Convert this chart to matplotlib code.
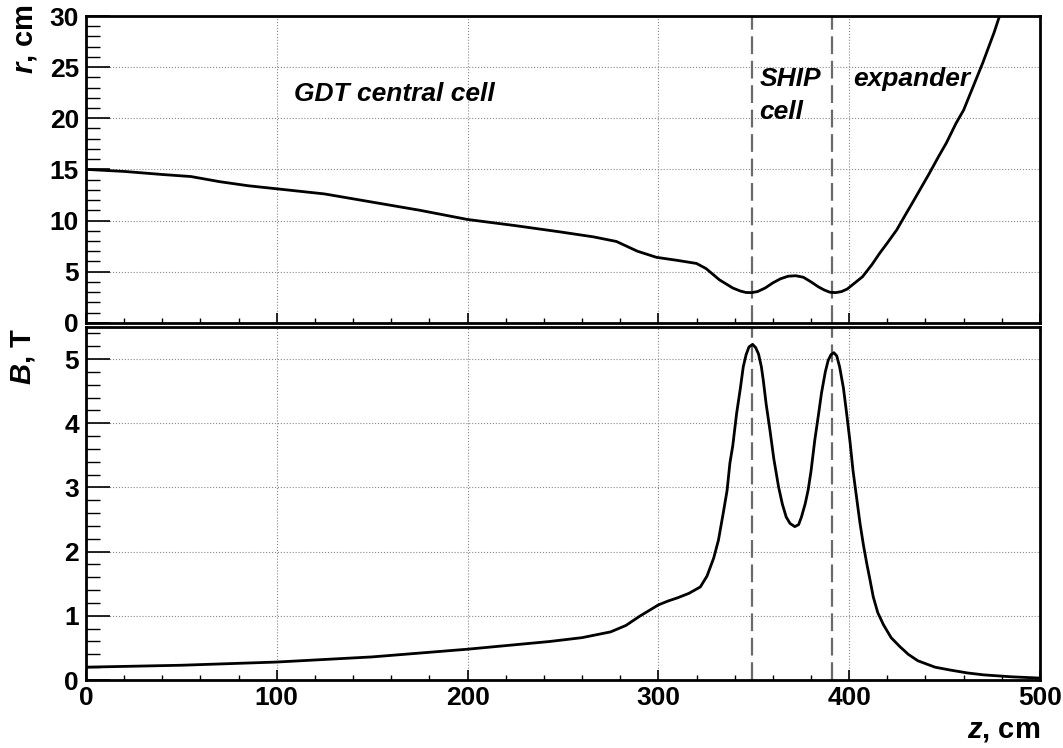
import numpy as np
import matplotlib
matplotlib.use("Agg")
from matplotlib import pyplot as plt
from matplotlib.ticker import MultipleLocator

plt.rcParams['font.family'] = 'Liberation Sans'
plt.rcParams['font.weight'] = 'bold'
plt.rcParams['mathtext.fontset'] = 'custom'
plt.rcParams['mathtext.it'] = 'Liberation Sans:bold:italic'
plt.rcParams['mathtext.rm'] = 'Liberation Sans:bold'

# radius of the plasma boundary, r (cm) vs z (cm)
z_r = [0, 20, 40, 55, 70, 85, 100, 125, 150, 175, 200, 225, 248, 266, 278, 289,
       299, 310, 320, 325, 332, 339, 343, 346, 349, 352, 356, 360, 364, 368, 372,
       376, 380, 384, 387, 390, 393, 396, 399, 403, 407, 412, 416, 420, 425, 429,
       434, 438, 442, 447, 451, 456, 460, 465, 470, 476, 479, 482]
r_vals = [15.0, 14.8, 14.5, 14.3, 13.8, 13.4, 13.1, 12.6, 11.8, 11.0, 10.1, 9.5,
          8.9, 8.4, 7.95, 7.0, 6.4, 6.1, 5.8, 5.3, 4.2, 3.4, 3.1, 2.96, 2.95, 3.05,
          3.4, 3.9, 4.3, 4.55, 4.6, 4.45, 4.0, 3.5, 3.2, 2.98, 2.95, 3.05, 3.3,
          3.9, 4.5, 5.7, 6.8, 7.8, 9.1, 10.4, 12.0, 13.3, 14.6, 16.3, 17.6, 19.5,
          20.8, 23.1, 25.4, 28.4, 30.1, 31.5]

# magnetic field on axis, B (T) vs z (cm)
z_b = [0, 50, 100, 150, 200, 243, 260, 275, 283, 290, 295, 300, 305, 310, 316,
       322, 325.5, 329, 331.5, 334, 336, 337.5, 339, 341, 343, 344.5, 346, 347.5,
       349.4, 351, 352.5, 354, 355, 356.5, 358.5, 360.5, 363, 365, 367, 369,
       371.5, 373.5, 375, 377, 378.5, 380, 382, 384, 385.5, 387.5, 389, 390.5,
       392, 393.5, 395, 397, 398.7, 400.5, 402, 404, 405.7, 407.5, 409.2, 411,
       412.6, 415, 418, 422, 426.6, 431, 436, 445, 453, 462, 470.5, 485, 500]
b_vals = [0.2, 0.23, 0.28, 0.36, 0.48, 0.60, 0.66, 0.75, 0.85, 0.99, 1.08, 1.17,
          1.23, 1.28, 1.35, 1.45, 1.62, 1.90, 2.18, 2.60, 2.95, 3.38, 3.65, 4.15,
          4.55, 4.88, 5.07, 5.19, 5.23, 5.18, 5.08, 4.88, 4.67, 4.30, 3.89, 3.45,
          3.01, 2.74, 2.54, 2.44, 2.39, 2.42, 2.54, 2.75, 2.96, 3.25, 3.74, 4.15,
          4.47, 4.80, 4.98, 5.07, 5.10, 5.05, 4.88, 4.55, 4.15, 3.70, 3.27, 2.82,
          2.44, 2.10, 1.82, 1.55, 1.30, 1.05, 0.86, 0.66, 0.52, 0.40, 0.30, 0.20,
          0.155, 0.11, 0.08, 0.05, 0.03]

# mirror positions (cm)
mirrors = [349, 391]

fig = plt.figure(figsize=(10.63, 7.48), dpi=100)
ax1 = fig.add_axes([0.0809, 0.5685, 0.8974, 0.4101])
ax2 = fig.add_axes([0.0809, 0.0909, 0.8974, 0.4719])

ax1.plot(z_r, r_vals, color='black', lw=2.0, zorder=3)
ax2.plot(z_b, b_vals, color='black', lw=2.0, zorder=3)

ax1.set_xlim(0, 500)
ax1.set_ylim(0, 30)
ax2.set_xlim(0, 500)
ax2.set_ylim(0, 5.5)

for ax in (ax1, ax2):
    for zm in mirrors:
        ax.axvline(zm, color='#6a6a6a', lw=1.6, ls=(0, (8, 3)), zorder=2)
    ax.xaxis.set_major_locator(MultipleLocator(100))
    ax.xaxis.set_minor_locator(MultipleLocator(20))
    ax.grid(True, which='major', color='#888888', ls=':', lw=0.8)
    ax.tick_params(axis='x', which='major', direction='in', length=7, width=1.2,
                   top=False, labelsize=19, pad=4)
    ax.tick_params(axis='x', which='minor', direction='in', length=3.5, width=1.0,
                   top=False)
    ax.tick_params(axis='y', which='major', direction='in', length=17, width=1.2,
                   right=False, labelsize=19, pad=5)
    ax.tick_params(axis='y', which='minor', direction='in', length=10, width=1.0,
                   right=False)
    for sp in ax.spines.values():
        sp.set_linewidth(2.0)

ax1.yaxis.set_major_locator(MultipleLocator(5))
ax1.yaxis.set_minor_locator(MultipleLocator(1))
ax1.tick_params(axis='x', labelbottom=False)
ax2.yaxis.set_major_locator(MultipleLocator(1))
ax2.yaxis.set_minor_locator(MultipleLocator(0.2))

ax1.text(109, 22.4, 'GDT central cell', fontsize=19, style='italic',
         fontweight='bold', va='center', ha='left')
ax1.text(353, 23.8, 'SHIP', fontsize=19, style='italic', fontweight='bold',
         va='center', ha='left')
ax1.text(353, 20.6, 'cell', fontsize=19, style='italic', fontweight='bold',
         va='center', ha='left')
ax1.text(402, 23.8, 'expander', fontsize=19, style='italic', fontweight='bold',
         va='center', ha='left')

fig.text(25 / 1063, 1 - 4 / 748, '$r$, cm', rotation=90, ha='center', va='top',
         fontsize=21, fontweight='bold')
fig.text(23 / 1063, 1 - 328 / 748, '$B$, T', rotation=90, ha='center', va='top',
         fontsize=21, fontweight='bold')
fig.text(1040 / 1063, 1 - 744 / 748, '$z$, cm', ha='right', va='bottom',
         fontsize=21, fontweight='bold')

fig.savefig('out.png', dpi=100)
